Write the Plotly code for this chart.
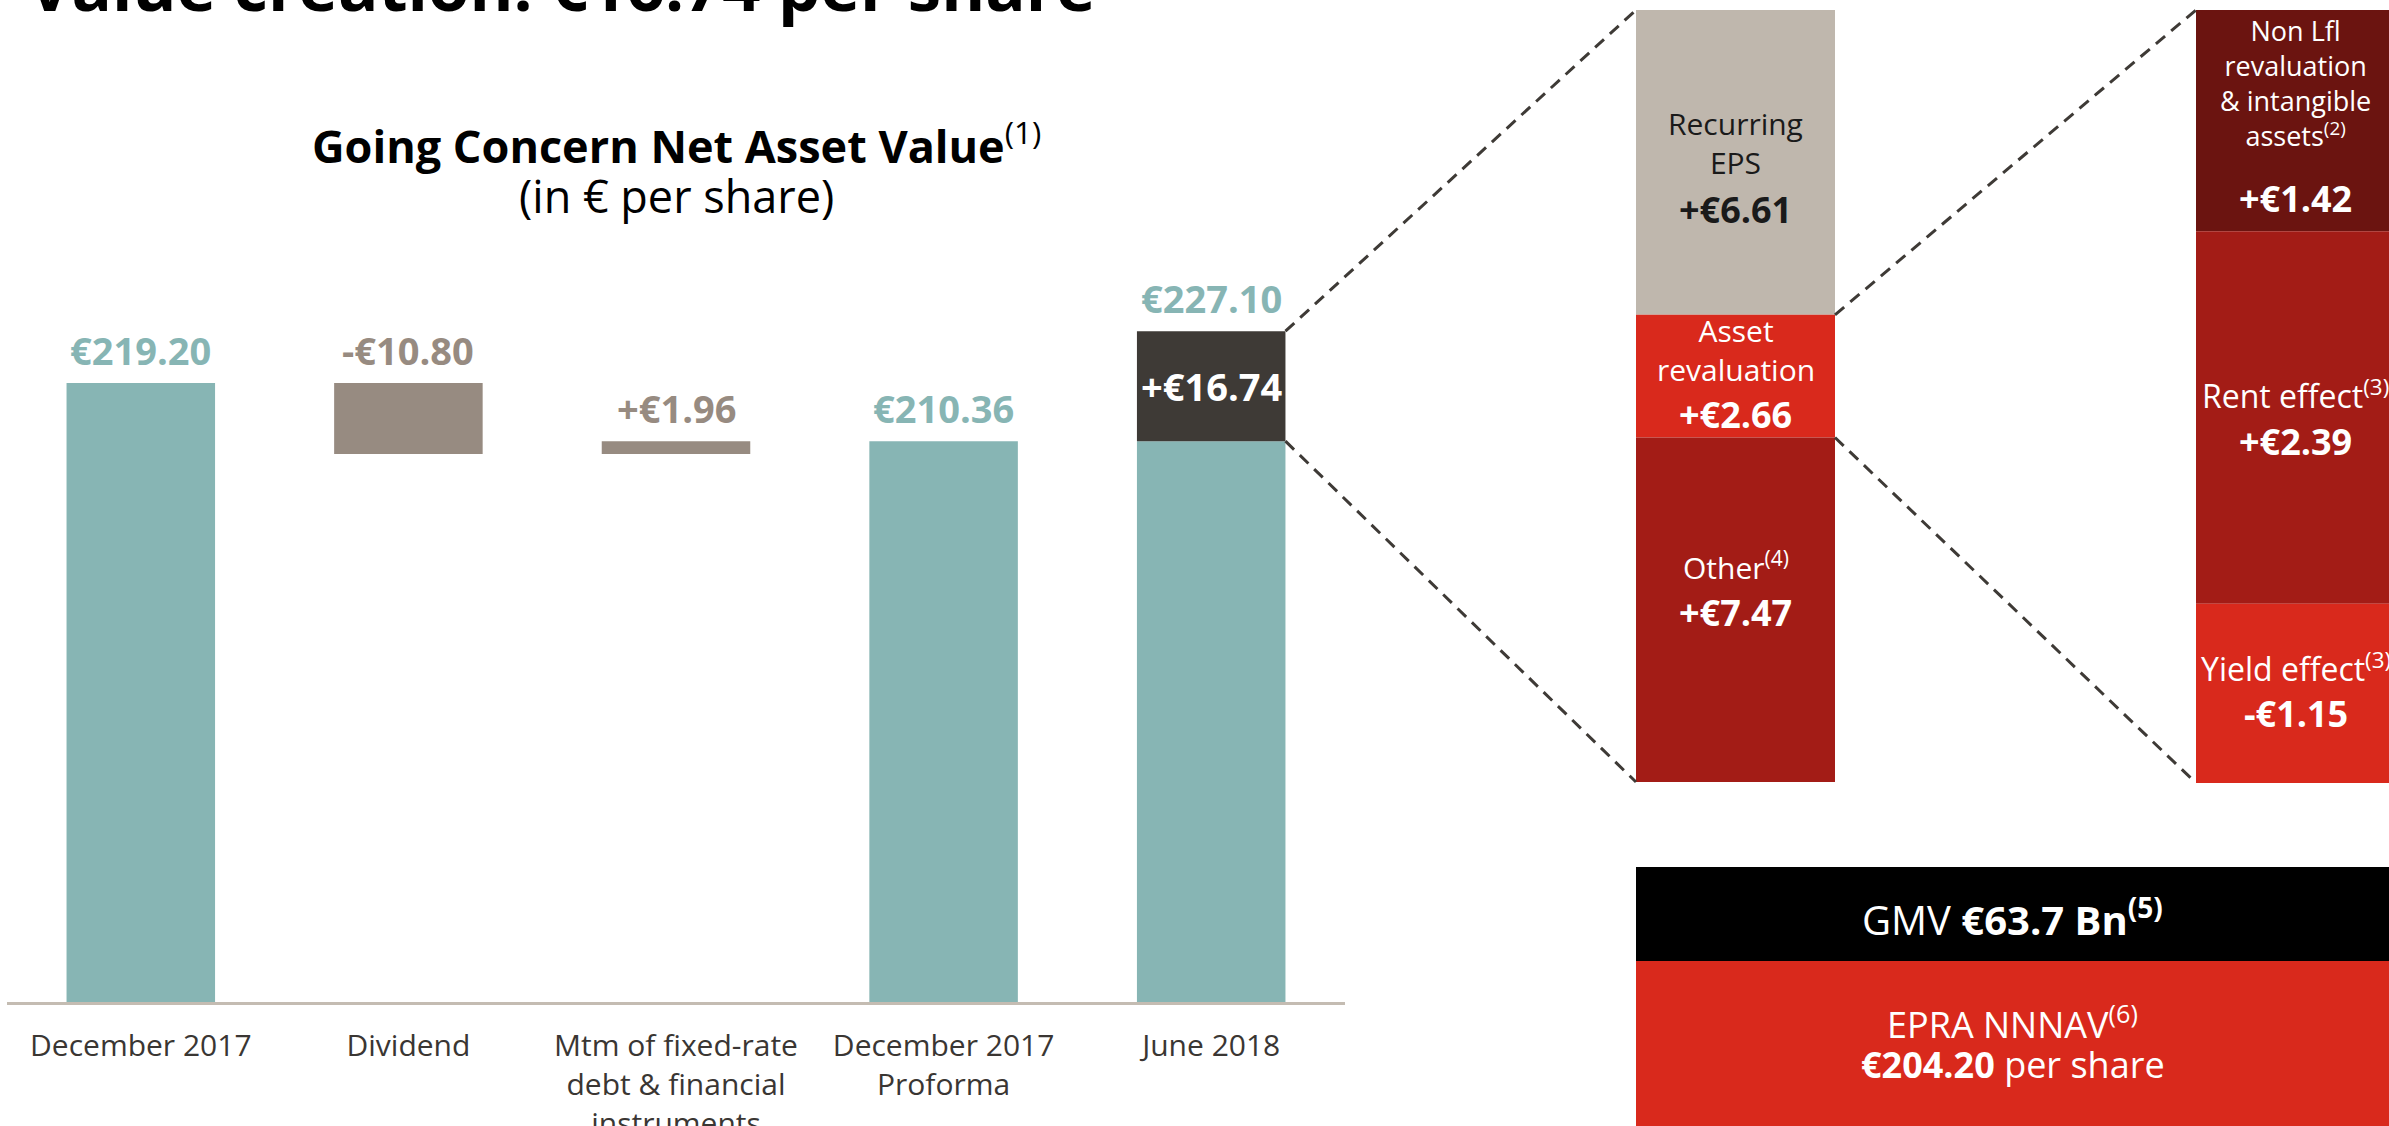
import plotly.graph_objects as go

W, H = 2389, 1126

# ---------------- data ----------------
categories = ["December 2017", "Dividend",
              "Mtm of fixed-rate<br>debt & financial<br>instruments",
              "December 2017<br>Proforma", "June 2018"]
start_nav = 219.20
dividend = -10.80
mtm_debt = 1.96
proforma_nav = 210.36
june_change = 16.74
june_nav = 227.10

eps_labels = ["Recurring<br>EPS", "Asset<br>revaluation", "Other<sup>(4)</sup>"]
eps_values = [6.61, 2.66, 7.47]          # top -> bottom

reval_labels = ["Non Lfl<br>revaluation<br>& intangible<br>assets<sup>(2)</sup>",
                "Rent effect<sup>(3)</sup>", "Yield effect<sup>(3)</sup>"]
reval_values = [1.42, 2.39, -1.15]       # top -> bottom

gmv_bn = 63.7
epra_nnnav = 204.20

# ---------------- styles ----------------
TEAL = "#87b5b4"
GREY = "#978b81"
DARK = "#3e3a36"
BEIGE = "#bfb7ad"
RED = "#d9291c"
DRED = "#a31c16"
DDRED = "#6b1410"
FONT = "Open Sans"

Y_MIN = 125.0
PX_PER_EUR = 6.57
X1_DOM = [7 / W, 1345 / W]
Y1_DOM = [1 - 1002 / H, 1 - 10 / H]
Y1_RNG = [Y_MIN, Y_MIN + (1002 - 10) / PX_PER_EUR]
X1_RNG = [-0.5, len(categories) - 0.5]
BAR_W = 0.555

X2_DOM = [1636 / W, 1835 / W]
Y2_DOM = [1 - 782 / H, 1 - 10 / H]
X2_RNG = [-0.5, 0.5]
Y2_RNG = [0, sum(eps_values)]

X3_DOM = [2196 / W, 1.0]
Y3_DOM = [1 - 783 / H, 1 - 10 / H]
X3_RNG = [-0.5, -0.5 + (W - 2196) / 199]
Y3_RNG = [0, sum(abs(v) for v in reval_values)]


def to_paper(dom, rng, v):
    return dom[0] + (v - rng[0]) / (rng[1] - rng[0]) * (dom[1] - dom[0])


def fmt(v, signed=True):
    s = f"€{abs(v):.2f}"
    if not signed:
        return s
    return ("+" if v >= 0 else "-") + s


def ann(**kw):
    d = dict(showarrow=False, xanchor="center", yanchor="middle")
    d.update(kw)
    return d


fig = go.Figure()

# ---- waterfall (left) ----
after_div = start_nav + dividend
fig.add_bar(x=[categories[0], categories[3], categories[4]],
            y=[start_nav, proforma_nav, proforma_nav], base=0,
            marker_color=TEAL, width=BAR_W, xaxis="x", yaxis="y")
fig.add_bar(x=[categories[1], categories[2]], y=[dividend, mtm_debt],
            base=[start_nav, after_div], marker_color=GREY, width=BAR_W,
            xaxis="x", yaxis="y")
fig.add_bar(x=[categories[4]], y=[june_change], base=[proforma_nav],
            marker_color=DARK, width=BAR_W, xaxis="x", yaxis="y")

tops = [start_nav, start_nav, after_div + mtm_debt, proforma_nav, june_nav]
top_texts = [fmt(start_nav, False), fmt(dividend), fmt(mtm_debt),
             fmt(proforma_nav, False), fmt(june_nav, False)]
top_colors = [TEAL, GREY, GREY, TEAL, TEAL]
annotations = []
for c, t, s, col in zip(categories, tops, top_texts, top_colors):
    annotations.append(ann(x=c, y=t, xref="x", yref="y", text=f"<b>{s}</b>",
                           yshift=33, font=dict(family=FONT, size=38, color=col)))
annotations.append(ann(x=categories[4], y=proforma_nav + june_change / 2,
                       xref="x", yref="y", text=f"<b>{fmt(june_change)}</b>",
                       font=dict(family=FONT, size=38, color="white")))

# ---- middle column: breakdown of +16.74 ----
eps_colors = [BEIGE, RED, DRED]
eps_text_col = ["#1a1a1a", "white", "white"]
eps_val_shift = [-46.6, -37.9, -2.3]
eps_lab_shift = [19.9, 26.6, 43.7]
eps_bases = [sum(eps_values[i + 1:]) for i in range(len(eps_values))]
for i, v in enumerate(eps_values):
    fig.add_bar(x=[0], y=[v], base=[eps_bases[i]], width=1,
                marker_color=eps_colors[i], xaxis="x2", yaxis="y2")
    mid = eps_bases[i] + v / 2
    annotations.append(ann(x=0, y=mid, xref="x2", yref="y2",
                           text=eps_labels[i], yshift=eps_lab_shift[i],
                           font=dict(family=FONT, size=30, color=eps_text_col[i])))
    annotations.append(ann(x=0, y=mid, xref="x2", yref="y2",
                           text=f"<b>{fmt(v)}</b>", yshift=eps_val_shift[i],
                           font=dict(family=FONT, size=36, color=eps_text_col[i])))

# ---- right column: breakdown of asset revaluation ----
reval_colors = [DDRED, DRED, RED]
reval_val_shift = [-77.4, -24.0, -20.6]
reval_lab_shift = [37.6, 24.0, 26.4]
reval_lab_size = [27, 32, 32]
reval_h = [abs(v) for v in reval_values]
reval_bases = [sum(reval_h[i + 1:]) for i in range(len(reval_h))]
for i, v in enumerate(reval_values):
    fig.add_bar(x=[0], y=[reval_h[i]], base=[reval_bases[i]], width=1,
                marker_color=reval_colors[i], xaxis="x3", yaxis="y3")
    mid = reval_bases[i] + reval_h[i] / 2
    annotations.append(ann(x=0, y=mid, xref="x3", yref="y3",
                           text=reval_labels[i], yshift=reval_lab_shift[i],
                           font=dict(family=FONT, size=reval_lab_size[i], color="white")))
    annotations.append(ann(x=0, y=mid, xref="x3", yref="y3",
                           text=f"<b>{fmt(v)}</b>", yshift=reval_val_shift[i],
                           font=dict(family=FONT, size=36, color="white")))

# ---- dashed connectors ----
def line(x0, y0, x1, y1):
    return dict(type="line", xref="paper", yref="paper", x0=x0, y0=y0,
                x1=x1, y1=y1, line=dict(color=DARK, width=3, dash="12px,8px"))

jx = to_paper(X1_DOM, X1_RNG, (len(categories) - 1) + BAR_W / 2)
m_left = to_paper(X2_DOM, X2_RNG, -0.5)
m_right = to_paper(X2_DOM, X2_RNG, 0.5)
r_left = to_paper(X3_DOM, X3_RNG, -0.5)
shapes = [
    line(jx, to_paper(Y1_DOM, Y1_RNG, june_nav), m_left, to_paper(Y2_DOM, Y2_RNG, sum(eps_values))),
    line(jx, to_paper(Y1_DOM, Y1_RNG, proforma_nav), m_left, to_paper(Y2_DOM, Y2_RNG, 0)),
    line(m_right, to_paper(Y2_DOM, Y2_RNG, eps_bases[0]), r_left, to_paper(Y3_DOM, Y3_RNG, Y3_RNG[1])),
    line(m_right, to_paper(Y2_DOM, Y2_RNG, eps_bases[1]), r_left, to_paper(Y3_DOM, Y3_RNG, 0)),
]

# ---- bottom boxes ----
shapes.append(dict(type="rect", xref="paper", yref="paper", x0=1636 / W, x1=1.0,
                   y0=1 - 961 / H, y1=1 - 867 / H, fillcolor="#000000", line_width=0,
                   layer="below"))
shapes.append(dict(type="rect", xref="paper", yref="paper", x0=1636 / W, x1=1.0,
                   y0=0, y1=1 - 961 / H, fillcolor=RED, line_width=0, layer="below"))
box_cx = (1636 / W + 1.0) / 2
annotations.append(ann(x=box_cx, y=1 - 917 / H, xref="paper", yref="paper",
                       text=f"GMV <b>€{gmv_bn:.1f} Bn<sup>(5)</sup></b>",
                       font=dict(family=FONT, size=40, color="white")))
annotations.append(ann(x=box_cx, y=1 - 1022 / H, xref="paper", yref="paper",
                       text="EPRA NNNAV<sup>(6)</sup>",
                       font=dict(family=FONT, size=36, color="white")))
annotations.append(ann(x=box_cx, y=1 - 1064 / H, xref="paper", yref="paper",
                       text=f"<b>{fmt(epra_nnnav, False)}</b> per share",
                       font=dict(family=FONT, size=36, color="white")))

# ---- titles ----
title_cx = (X1_DOM[0] + X1_DOM[1]) / 2
annotations.append(ann(x=title_cx, y=1 - 143 / H, xref="paper", yref="paper",
                       text="<b>Going Concern Net Asset Value</b><sup>(1)</sup>",
                       font=dict(family=FONT, size=45, color="#000000")))
annotations.append(ann(x=title_cx, y=1 - 196 / H, xref="paper", yref="paper",
                       text="(in € per share)",
                       font=dict(family=FONT, size=45, color="#000000")))
annotations.append(ann(x=26 / W, y=1 + 15 / H, xref="paper", yref="paper",
                       text=f"<b>Value creation: {fmt(june_change, False)} per share</b>",
                       xanchor="left",
                       font=dict(family=FONT, size=67, color="#000000")))

hidden = dict(visible=False, showgrid=False, zeroline=False, fixedrange=True,
              automargin=False)
fig.update_layout(
    width=W, height=H, margin=dict(l=0, r=0, t=0, b=0, pad=0, autoexpand=False),
    paper_bgcolor="white", plot_bgcolor="rgba(0,0,0,0)",
    showlegend=False, barmode="overlay", hovermode=False,
    xaxis=dict(domain=X1_DOM, range=X1_RNG, type="category", anchor="y",
               categoryorder="array", categoryarray=categories, automargin=False,
               showline=True, linecolor="#c4bcb2", linewidth=3, ticks="",
               showgrid=False, zeroline=False, ticklabelstandoff=15,
               fixedrange=True,
               tickfont=dict(family=FONT, size=30, color="#3a3633")),
    yaxis=dict(domain=Y1_DOM, range=Y1_RNG, anchor="x", **hidden),
    xaxis2=dict(domain=X2_DOM, range=X2_RNG, anchor="y2", **hidden),
    yaxis2=dict(domain=Y2_DOM, range=Y2_RNG, anchor="x2", **hidden),
    xaxis3=dict(domain=X3_DOM, range=X3_RNG, anchor="y3", **hidden),
    yaxis3=dict(domain=Y3_DOM, range=Y3_RNG, anchor="x3", **hidden),
    annotations=annotations, shapes=shapes,
)
for tr in fig.data:
    tr.update(marker_line_width=0, opacity=1)

fig.write_html("out.html",
               config={"displayModeBar": False},
               post_script="document.body.style.margin='0';"
                           "document.body.style.overflow='hidden';")
